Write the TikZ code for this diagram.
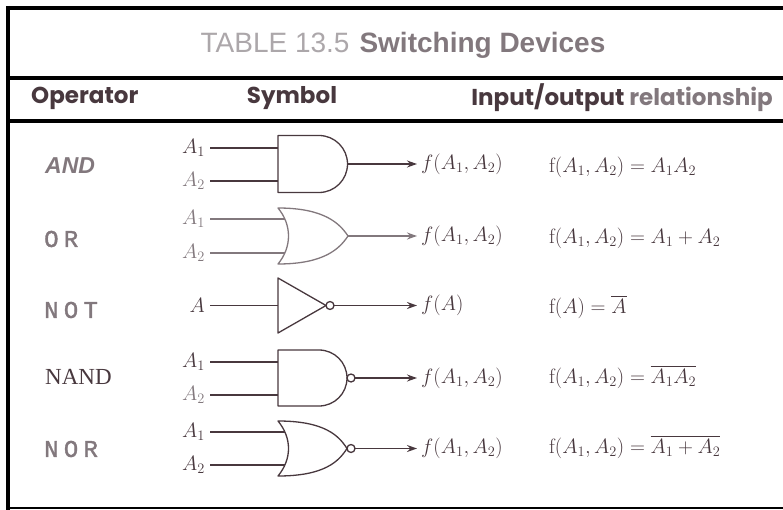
\documentclass[tikz,border=0pt]{standalone}
\usepackage{amsmath}
\usepackage{fontspec}
\usepackage{tikz}
\usetikzlibrary{arrows.meta}
\newfontfamily\headfont{Poppins}
\newfontfamily\titlefont{Liberation Sans}
\newfontfamily\opsans{Liberation Sans}
\newfontfamily\opmono{Liberation Mono}[LetterSpace=22, FakeBold=1.5]
\newfontfamily\opserif{Liberation Serif}
\definecolor{ink}{RGB}{72,56,62}
\definecolor{greyink}{RGB}{130,120,125}
\definecolor{paleink}{RGB}{172,167,170}

\begin{document}
\begin{tikzpicture}[x=1pt, y=-1pt]

    \tikzstyle{rule} = [line width=4pt, black]
    \tikzstyle{head} = [inner sep=0pt, text=ink, font=\headfont\bfseries\fontsize{23}{25}\selectfont]
    \tikzstyle{opname} = [anchor=west, inner sep=0pt, text=greyink]
    \tikzstyle{pin} = [anchor=east, inner ysep=1pt, inner xsep=5pt, text=ink, font=\fontsize{20.74}{23}\selectfont]
    \tikzstyle{outlabel} = [anchor=west, inner ysep=1pt, inner xsep=4pt, text=ink, font=\fontsize{20.74}{23}\selectfont]
    \tikzstyle{formula} = [anchor=west, inner sep=0pt, text=ink, font=\fontsize{20.74}{23}\selectfont]
    \tikzstyle{gateline} = [draw=ink, line width=1.3pt, line join=round]
    \tikzstyle{bubble} = [gateline, fill=white]
    \tikzstyle{wire} = [line width=1.3pt, draw=ink]
    \tikzstyle{arrow} = [wire, -{Stealth[length=10pt, width=7pt]}]

    \useasboundingbox (0,0) rectangle (783,510);

    % frame
    \draw[rule] (6,8) -- (783,8);
    \draw[rule] (8,6) -- (8,510);
    \draw[rule] (6,78) -- (783,78);
    \draw[rule] (6,121) -- (783,121);
    \draw[line width=2pt] (6,508) -- (783,508);

    \node[inner sep=0pt, font=\titlefont\fontsize{28}{30}\selectfont] (title) at (403,45)
        {{\color{paleink}TABLE 13.5}\hspace{10pt}{\bfseries\color{greyink}Switching Devices}};
    \node[head, anchor=west] (hop) at (31,98) {Operator};
    \node[head] (hsym) at (292,98) {Symbol};
    \node[head, anchor=east] (hrel) at (773,98) {Input/output {\color{greyink}relationship}};

    % AND
    \node[opname, font=\opsans\bfseries\itshape\fontsize{23}{25}\selectfont] (andop) at (45,166) {AND};
    \draw[gateline] (278,135.5) -- (319,135.5) arc[start angle=-90, end angle=90, radius=28.5] -- (278,192.5) -- cycle;
    \coordinate (andin1) at (278,148);
    \coordinate (andin2) at (278,181);
    \coordinate (andout) at (347.5,164);
    \node[pin] (anda) at (210,0 |- andin1) {$A_1$};
    \node[pin, text=greyink] (andb) at (210,0 |- andin2) {$A_2$};
    \node[outlabel] (andf) at (417,0 |- andout) {$f(A_1,A_2)$};
    \node[formula] (andeq) at (549,167) {$\mathrm{f}(A_1,A_2)=A_1A_2$};

    % OR
    \node[opname, font=\opmono\fontsize{24}{26}\selectfont] (orop) at (44,239) {OR};
    \draw[gateline, draw=greyink] (278,208) .. controls (325,208) and (340,224) .. (348,236)
        .. controls (340,248) and (325,264) .. (278,264) .. controls (292,247) and (292,225) .. cycle;
    \coordinate (orin1) at (285,219);
    \coordinate (orin2) at (285,253);
    \coordinate (orout) at (348,236);
    \node[pin, text=greyink] (ora) at (210,0 |- orin1) {$A_1$};
    \node[pin, text=greyink] (orb) at (210,0 |- orin2) {$A_2$};
    \node[outlabel] (orf) at (417,0 |- orout) {$f(A_1,A_2)$};
    \node[formula] (oreq) at (549,238) {$\mathrm{f}(A_1,A_2)=A_1+A_2$};

    % NOT
    \node[opname, font=\opmono\fontsize{24}{26}\selectfont] (notop) at (44,310) {NOT};
    \draw[gateline] (278,278) -- (326,305.5) -- (278,333) -- cycle;
    \draw[bubble] (330,305.5) circle[radius=4];
    \coordinate (notin) at (278,305.5);
    \coordinate (notout) at (334,305.5);
    \node[pin] (nota) at (210,0 |- notin) {$A$};
    \node[outlabel] (notf) at (417,0 |- notout) {$f(A)$};
    \node[formula] (noteq) at (549,307) {$\mathrm{f}(A)=\overline{A}$};

    % NAND
    \node[opname, font=\opserif\fontsize{23}{25}\selectfont, text=ink] (nandop) at (45,377) {NAND};
    \draw[gateline] (278,350) -- (319,350) arc[start angle=-90, end angle=90, radius=28] -- (278,406) -- cycle;
    \draw[bubble] (351,378) circle[radius=4];
    \coordinate (nandin1) at (278,362);
    \coordinate (nandin2) at (278,395);
    \coordinate (nandout) at (355,378);
    \node[pin] (nanda) at (210,0 |- nandin1) {$A_1$};
    \node[pin, text=greyink] (nandb) at (210,0 |- nandin2) {$A_2$};
    \node[outlabel] (nandf) at (417,0 |- nandout) {$f(A_1,A_2)$};
    \node[formula] (nandeq) at (549,377) {$\mathrm{f}(A_1,A_2)=\overline{A_1A_2}$};

    % NOR
    \node[opname, font=\opmono\fontsize{24}{26}\selectfont] (norop) at (44,449) {NOR};
    \draw[gateline] (278,421) .. controls (325,421) and (339,436) .. (347,448.5)
        .. controls (339,461) and (325,476) .. (278,476) .. controls (292,459) and (292,438) .. cycle;
    \draw[bubble] (351,448.5) circle[radius=4];
    \coordinate (norin1) at (285,432);
    \coordinate (norin2) at (285,465);
    \coordinate (norout) at (355,448.5);
    \node[pin] (nora) at (210,0 |- norin1) {$A_1$};
    \node[pin] (norb) at (210,0 |- norin2) {$A_2$};
    \node[outlabel] (norf) at (417,0 |- norout) {$f(A_1,A_2)$};
    \node[formula] (noreq) at (549,447) {$\mathrm{f}(A_1,A_2)=\overline{A_1+A_2}$};

    \draw[wire] (anda.east) -- (andin1);
    \draw[wire] (andb.east) -- (andin2);
    \draw[arrow] (andout) -- (andf.west);
    \draw[wire, draw=greyink] (ora.east) -- (orin1);
    \draw[wire, draw=greyink] (orb.east) -- (orin2);
    \draw[arrow, draw=greyink, fill=greyink] (orout) -- (orf.west);
    \draw[wire] (nota.east) -- (notin);
    \draw[arrow] (notout) -- (notf.west);
    \draw[wire] (nanda.east) -- (nandin1);
    \draw[wire] (nandb.east) -- (nandin2);
    \draw[arrow] (nandout) -- (nandf.west);
    \draw[wire] (nora.east) -- (norin1);
    \draw[wire] (norb.east) -- (norin2);
    \draw[arrow] (norout) -- (norf.west);

\end{tikzpicture}
\end{document}
